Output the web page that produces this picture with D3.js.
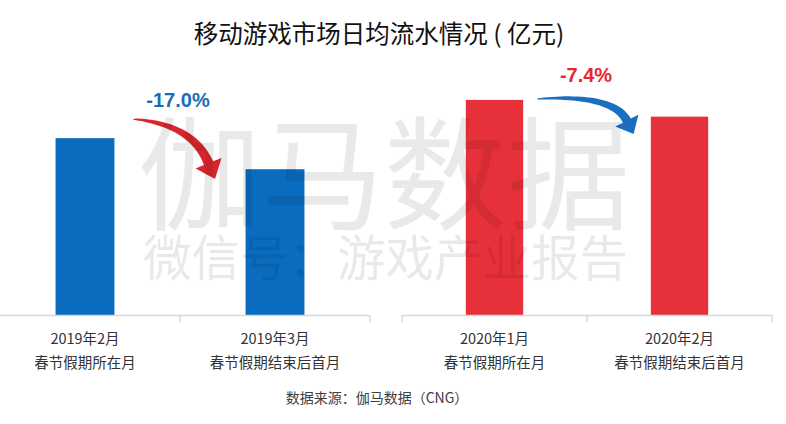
<!DOCTYPE html>
<html><head><meta charset="utf-8">
<script src="https://cdn.jsdelivr.net/npm/d3@7"></script>
<style>
html,body{margin:0;padding:0;background:#fff;}
svg{display:block;font-family:"Noto Sans CJK SC","Noto Sans",sans-serif;}
</style></head>
<body>
<svg id="c" width="786" height="424"></svg>
<script>
const title = "移动游戏市场日均流水情况 ( 亿元)";
const cats2019 = ["2019年2月", "2019年3月"];
const subs2019 = ["春节假期所在月", "春节假期结束后首月"];
const vals2019 = [7.4, 6.1];
const cats2020 = ["2020年1月", "2020年2月"];
const subs2020 = ["春节假期所在月", "春节假期结束后首月"];
const vals2020 = [9.0, 8.3];
const changes = ["-17.0%", "-7.4%"];
const source = "数据来源：伽马数据（CNG）";
const watermark1 = "伽马数据";
const watermark2 = "微信号：游戏产业报告";

const svg = d3.select("#c");
const baseY = 315;
const y = d3.scaleLinear().domain([0, 10]).range([baseY, 76]);
const x1 = d3.scaleBand().domain(cats2019).range([-10, 370]).padding(0);
const x2 = d3.scaleBand().domain(cats2020).range([402, 772]).padding(0);
const barFrac = 0.31;

svg.append("text").attr("x", 379).attr("y", 43).attr("text-anchor", "middle")
  .attr("font-size", 24.5).attr("fill", "#111").text(title);

function group(x, cats, subs, vals, color) {
  const g = svg.append("g");
  const bw = x.bandwidth() * barFrac;
  g.selectAll("rect").data(vals).join("rect")
    .attr("x", (d, i) => x(cats[i]) + x.bandwidth() / 2 - bw / 2)
    .attr("width", bw)
    .attr("y", d => y(d))
    .attr("height", d => y(0) - y(d))
    .attr("fill", color);
  const r = x.range();
  g.append("line").attr("x1", r[0]).attr("x2", r[1]).attr("y1", baseY + 0.5).attr("y2", baseY + 0.5)
    .attr("stroke", "#d9d9d9").attr("stroke-width", 1.5);
  const bounds = cats.map(c => x(c)).concat([r[1]]);
  g.selectAll("line.tick").data(bounds).join("line").attr("class", "tick")
    .attr("x1", d => d).attr("x2", d => d).attr("y1", baseY).attr("y2", baseY + 7)
    .attr("stroke", "#d9d9d9").attr("stroke-width", 1.5);
  g.selectAll("text.c").data(cats).join("text").attr("class", "c")
    .attr("x", d => x(d) + x.bandwidth() / 2).attr("y", 344)
    .attr("text-anchor", "middle").attr("font-size", 14.5).attr("fill", "#333").text(d => d);
  g.selectAll("text.s").data(subs).join("text").attr("class", "s")
    .attr("x", (d, i) => x(cats[i]) + x.bandwidth() / 2).attr("y", 368)
    .attr("text-anchor", "middle").attr("font-size", 14.5).attr("fill", "#333").text(d => d);
}
group(x1, cats2019, subs2019, vals2019, "#0a6cbf");
group(x2, cats2020, subs2020, vals2020, "#e7313a");

function arrow(p0, pc, p1, headLen, headHalf, w0, w1, color) {
  const N = 30, up = [], lo = [];
  for (let k = 0; k <= N; k++) {
    const t = k / N;
    const px = (1 - t) * (1 - t) * p0[0] + 2 * (1 - t) * t * pc[0] + t * t * p1[0];
    const py = (1 - t) * (1 - t) * p0[1] + 2 * (1 - t) * t * pc[1] + t * t * p1[1];
    const dx = 2 * (1 - t) * (pc[0] - p0[0]) + 2 * t * (p1[0] - pc[0]);
    const dy = 2 * (1 - t) * (pc[1] - p0[1]) + 2 * t * (p1[1] - pc[1]);
    const L = Math.hypot(dx, dy), nx = -dy / L, ny = dx / L;
    const w = (w0 + (w1 - w0) * Math.pow(t, 0.7)) / 2;
    up.push([px + nx * w, py + ny * w]);
    lo.push([px - nx * w, py - ny * w]);
  }
  const dx = p1[0] - pc[0], dy = p1[1] - pc[1], L = Math.hypot(dx, dy);
  const ux = dx / L, uy = dy / L, nx = -uy, ny = ux;
  const h1 = [p1[0] + nx * headHalf, p1[1] + ny * headHalf];
  const h2 = [p1[0] - nx * headHalf, p1[1] - ny * headHalf];
  const tip = [p1[0] + ux * headLen, p1[1] + uy * headLen];
  const pts = up.concat([h1, tip, h2]).concat(lo.reverse());
  svg.append("path").attr("d", d3.line()(pts) + "Z").attr("fill", color);
}

const bw1 = x1.bandwidth() * barFrac;
const b1r = x1(cats2019[0]) + x1.bandwidth() / 2 + bw1 / 2;
const b2l = x1(cats2019[1]) + x1.bandwidth() / 2 - bw1 / 2;
arrow([b1r + 19, y(vals2019[0]) - 19], [b1r + 78, y(vals2019[0]) - 14], [b2l - 37, y(vals2019[1]) - 6], 17, 14, 1, 10, "#d9262e");
svg.append("text").attr("x", (b1r + b2l) / 2 - 2).attr("y", 107).attr("text-anchor", "middle")
  .attr("font-family", "Liberation Sans, Arial, sans-serif")
  .attr("font-size", 20).attr("font-weight", "bold").attr("fill", "#1b6cb8").text(changes[0]);

const bw2 = x2.bandwidth() * barFrac;
const b3r = x2(cats2020[0]) + x2.bandwidth() / 2 + bw2 / 2;
const b4l = x2(cats2020[1]) + x2.bandwidth() / 2 - bw2 / 2;
arrow([b3r + 14, y(vals2020[0]) - 1], [b3r + 90, y(vals2020[0]) - 6], [b4l - 24, y(vals2020[1]) + 4], 15, 13, 1, 9, "#1a6fc0");
svg.append("text").attr("x", (b3r + b4l) / 2 - 1).attr("y", 82).attr("text-anchor", "middle")
  .attr("font-family", "Liberation Sans, Arial, sans-serif")
  .attr("font-size", 20).attr("font-weight", "bold").attr("fill", "#e8262c").text(changes[1]);

svg.append("text").attr("x", 138).attr("y", 220).attr("font-size", 123)
  .attr("fill", "#000").attr("fill-opacity", 0.085).text(watermark1);
svg.append("text").attr("x", 143).attr("y", 276).attr("font-size", 48.5)
  .attr("fill", "#000").attr("fill-opacity", 0.085).text(watermark2);

svg.append("text").attr("x", 377).attr("y", 403).attr("text-anchor", "middle")
  .attr("font-size", 14).attr("fill", "#404040").text(source);
</script>
</body></html>
